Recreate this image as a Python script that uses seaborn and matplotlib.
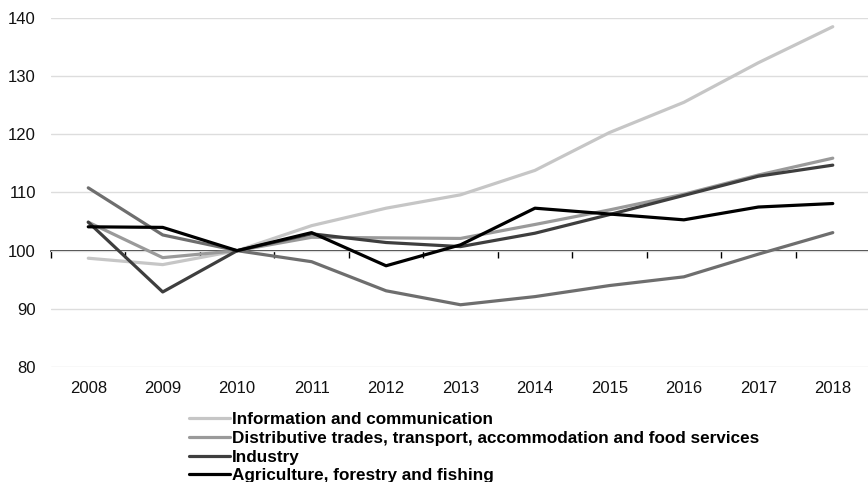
import numpy as np
import pandas as pd
import seaborn as sns
import matplotlib.pyplot as plt

# values (index, 2010 = 100)
years = list(range(2008, 2019))
info_comm = [98.7, 97.6, 100.0, 104.3, 107.3, 109.6, 113.8, 120.3, 125.5, 132.3, 138.5]
distributive = [104.9, 98.8, 100.0, 102.3, 102.2, 102.1, 104.5, 107.0, 109.7, 113.0, 115.9]
industry = [104.9, 92.9, 100.0, 102.9, 101.4, 100.7, 103.0, 106.2, 109.5, 112.8, 114.7]
agriculture = [104.1, 104.0, 100.0, 103.1, 97.4, 101.0, 107.3, 106.3, 105.3, 107.5, 108.1]
construction = [110.8, 102.7, 100.0, 98.1, 93.1, 90.7, 92.1, 94.0, 95.5, 99.4, 103.1]

sectors = [
    "Information and communication",
    "Distributive trades, transport, accommodation and food services",
    "Industry",
    "Agriculture, forestry and fishing",
    "Construction",
]
series = [info_comm, distributive, industry, agriculture, construction]
colors = ["#c6c6c6", "#9a9a9a", "#3e3e3e", "#000000", "#6e6e6e"]
y_ticks = [80, 90, 100, 110, 120, 130, 140]

df = pd.DataFrame({
    "year": years * len(sectors),
    "value": np.concatenate(series),
    "sector": np.repeat(sectors, len(years)),
})

sns.set_style("white")
plt.rcParams["font.family"] = ["Liberation Sans", "DejaVu Sans"]
plt.rcParams["text.color"] = "black"

fig = plt.figure(figsize=(8.68, 4.82), dpi=100)
ax = fig.add_axes([0.0588, 0.2386, 0.9435, 0.7241])

# draw order: lighter lines at back
draw_order = [sectors[0], sectors[1], sectors[4], sectors[2], sectors[3]]
sns.lineplot(data=df, x="year", y="value", hue="sector", hue_order=draw_order,
             palette=dict(zip(sectors, colors)), linewidth=2.3, ax=ax, legend=True)

ax.set_xlim(2007.5, 2018.5)
ax.set_ylim(80, 140)
ax.set_yticks(y_ticks)
ax.set_xticks(years)
ax.set_xlabel("")
ax.set_ylabel("")
ax.tick_params(axis="both", length=0, labelsize=12, colors="#111111")
ax.tick_params(axis="y", pad=11)
ax.tick_params(axis="x", pad=10)
for s in ax.spines.values():
    s.set_visible(False)
ax.grid(axis="y", color="#dddddd", linewidth=1)
ax.set_axisbelow(True)

# baseline at 100 with tick marks between categories
base = ax.secondary_xaxis((100 - 80) / (140 - 80))
base.spines["bottom"].set_color("black")
base.spines["bottom"].set_linewidth(1.1)
base.set_xticks(np.arange(2007.5, 2019, 1.0))
base.tick_params(axis="x", length=5, width=1, color="black", labelbottom=False, direction="out")

handles, labels = ax.get_legend_handles_labels()
ax.get_legend().remove()
lookup = dict(zip(labels, handles))
fig.legend([lookup[s] for s in sectors[:4]], sectors[:4],
           loc="upper left", bbox_to_anchor=(0.2177, 0.145), frameon=False,
           borderpad=0, borderaxespad=0, handlelength=2.4, handletextpad=0.1,
           labelspacing=0.22, labelcolor="black", prop={"weight": "bold", "size": 12.3})

fig.savefig("out.png", dpi=100)
